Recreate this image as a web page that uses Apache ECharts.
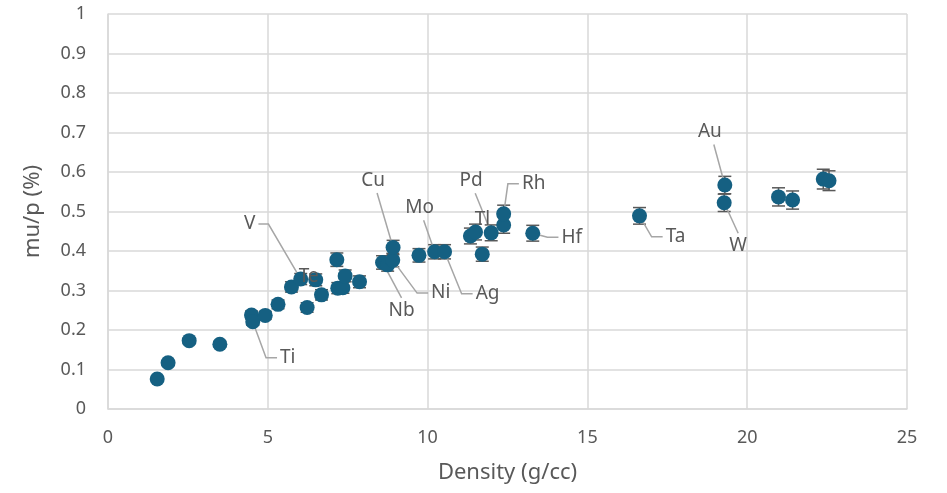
<!DOCTYPE html>
<html>
<head>
<meta charset="utf-8">
<script src="https://cdn.jsdelivr.net/npm/echarts@6/dist/echarts.min.js"></script>
<style>html,body{margin:0;padding:0;background:#fff;}#c{width:947px;height:493px;}</style>
</head>
<body>
<div id="c"></div>
<script>
// Data
const names = ["", "", "", "", "", "Ti", "", "", "", "V", "Te", "", "", "", "", "", "", "", "Nb", "", "Ni", "Cu", "", "Mo", "Ag", "", "Tl", "", "Pd", "", "Rh", "Hf", "Ta", "W", "Au", "", "", "", ""];
const density = [1.54, 1.88, 2.54, 3.50, 4.49, 4.53, 4.92, 5.32, 5.74, 6.03, 6.50, 6.23, 6.68, 7.16, 7.19, 7.35, 7.42, 7.87, 8.59, 8.75, 8.91, 8.92, 9.73, 10.22, 10.53, 11.34, 11.50, 11.71, 11.99, 12.38, 12.38, 13.29, 16.63, 19.28, 19.30, 20.98, 21.42, 22.38, 22.56];
const mup = [0.076, 0.117, 0.173, 0.164, 0.238, 0.221, 0.237, 0.265, 0.309, 0.329, 0.327, 0.257, 0.289, 0.378, 0.306, 0.307, 0.337, 0.322, 0.371, 0.365, 0.377, 0.409, 0.389, 0.398, 0.398, 0.438, 0.448, 0.392, 0.446, 0.466, 0.494, 0.445, 0.489, 0.522, 0.567, 0.537, 0.529, 0.582, 0.578];
const errs = [0.003, 0.005, 0.007, 0.007, 0.010, 0.009, 0.010, 0.011, 0.013, 0.014, 0.015, 0.012, 0.013, 0.017, 0.014, 0.014, 0.015, 0.015, 0.017, 0.016, 0.017, 0.018, 0.017, 0.018, 0.018, 0.020, 0.020, 0.018, 0.020, 0.021, 0.022, 0.020, 0.021, 0.022, 0.022, 0.023, 0.023, 0.025, 0.025];
const xTicks = [0, 5, 10, 15, 20, 25];
const yTicks = [0, 0.1, 0.2, 0.3, 0.4, 0.5, 0.6, 0.7, 0.8, 0.9, 1];

// label placement (pixel offsets from the point) and leader attach side - layout only
const labelLayoutMap = {
  Ti: [35, 36, 'l'], V: [-51, -55, 'r'], Te: [-7, -3, 'n'], Cu: [-20, -67, 'b'], Nb: [19, 48, 't'],
  Ni: [48, 33, 'l'], Mo: [-15, -44, 'b'], Ag: [43, 42, 'l'], Tl: [7, -12, 'n'], Pd: [-20, -52, 'b'],
  Rh: [30, -30, 'l'], Hf: [39, 4, 'l'], Ta: [36, 21, 'l'], Au: [-15, -53, 'b'], W: [14, 43, 't']
};

const FONT = 'Noto Sans';
const LABEL_SIZE = 19;
const TXT = '#595959';

const measureCtx = document.createElement('canvas').getContext('2d');
measureCtx.font = LABEL_SIZE + 'px "' + FONT + '"';
function textWidth(t) { return measureCtx.measureText(t).width; }

const pts = density.map((x, i) => [x, mup[i]]);
const errData = density.map((x, i) => [x, mup[i], errs[i], i]);
const labelData = [];
names.forEach((n, i) => { if (n) labelData.push([density[i], mup[i], i]); });

function labelGeom(api, idx) {
  const n = names[idx];
  const L = labelLayoutMap[n];
  const p = api.coord([density[idx], mup[idx]]);
  const cx = p[0] + L[0], cy = p[1] + L[1];
  return {n, p, cx, cy, side: L[2], w: textWidth(n), h: LABEL_SIZE + 2};
}

const chart = echarts.init(document.getElementById('c'));
chart.setOption({
  animation: false,
  grid: {left: 108, right: 40, top: 14, bottom: 84},
  xAxis: {
    type: 'value', min: xTicks[0], max: xTicks[xTicks.length - 1], interval: 5,
    name: 'Density (g/cc)', nameLocation: 'middle', nameGap: 53,
    nameTextStyle: {fontFamily: FONT, fontSize: 22, color: TXT},
    axisLine: {show: true, lineStyle: {color: '#d9d9d9', width: 1.5}},
    axisTick: {show: false},
    axisLabel: {fontFamily: FONT, fontSize: 18, color: TXT, margin: 20},
    splitLine: {show: true, lineStyle: {color: '#d9d9d9', width: 1.5}}
  },
  yAxis: {
    type: 'value', min: yTicks[0], max: yTicks[yTicks.length - 1], interval: 0.1,
    name: 'mu/p (%)', nameLocation: 'middle', nameGap: 64, nameRotate: 90,
    nameTextStyle: {fontFamily: FONT, fontSize: 22, color: TXT},
    axisLine: {show: true, lineStyle: {color: '#d9d9d9', width: 1.5}},
    axisTick: {show: false},
    axisLabel: {fontFamily: FONT, fontSize: 18, color: TXT, margin: 22,
      formatter: v => String(Math.round(v * 10) / 10)},
    splitLine: {show: true, lineStyle: {color: '#d9d9d9', width: 1.5}}
  },
  series: [
    {
      // error bars and leader lines, beneath the markers
      type: 'custom',
      z: 1,
      silent: true,
      data: errData,
      renderItem: function (params, api) {
        const x = api.value(0), y = api.value(1), e = api.value(2), idx = api.value(3);
        const top = api.coord([x, y + e]);
        const bot = api.coord([x, y - e]);
        const hw = 6.5;
        const st = {stroke: '#595959', lineWidth: 1.5};
        const children = [
          {type: 'line', shape: {x1: top[0], y1: top[1], x2: bot[0], y2: bot[1]}, style: st},
          {type: 'line', shape: {x1: top[0] - hw, y1: top[1], x2: top[0] + hw, y2: top[1]}, style: st},
          {type: 'line', shape: {x1: bot[0] - hw, y1: bot[1], x2: bot[0] + hw, y2: bot[1]}, style: st}
        ];
        if (names[idx]) {
          const g = labelGeom(api, idx);
          let pts2 = null;
          if (g.side === 'l') {
            const ax = g.cx - g.w / 2 - 3;
            pts2 = [[ax, g.cy], [ax - 11, g.cy], g.p];
          } else if (g.side === 'r') {
            const ax = g.cx + g.w / 2 + 3;
            pts2 = [[ax, g.cy], [ax + 10, g.cy], g.p];
          } else if (g.side === 'b') {
            pts2 = [[g.cx + 4, g.cy + g.h / 2 + 2], g.p];
          } else if (g.side === 't') {
            pts2 = [[g.cx, g.cy - g.h / 2 - 2], g.p];
          }
          if (pts2) {
            children.push({type: 'polyline', shape: {points: pts2},
              style: {stroke: '#a6a6a6', lineWidth: 1.5, fill: null}});
          }
        }
        return {type: 'group', children};
      }
    },
    {
      type: 'scatter',
      z: 2,
      symbol: 'circle',
      symbolSize: 15,
      itemStyle: {color: '#156082', opacity: 1},
      data: pts,
      emphasis: {disabled: true},
      silent: true
    },
    {
      // data labels, above everything
      type: 'custom',
      z: 3,
      silent: true,
      data: labelData,
      renderItem: function (params, api) {
        const g = labelGeom(api, api.value(2));
        return {
          type: 'text',
          x: g.cx, y: g.cy,
          style: {text: g.n, fill: TXT, font: LABEL_SIZE + 'px "' + FONT + '"',
            align: 'center', verticalAlign: 'middle'}
        };
      }
    }
  ]
});
</script>
</body>
</html>
